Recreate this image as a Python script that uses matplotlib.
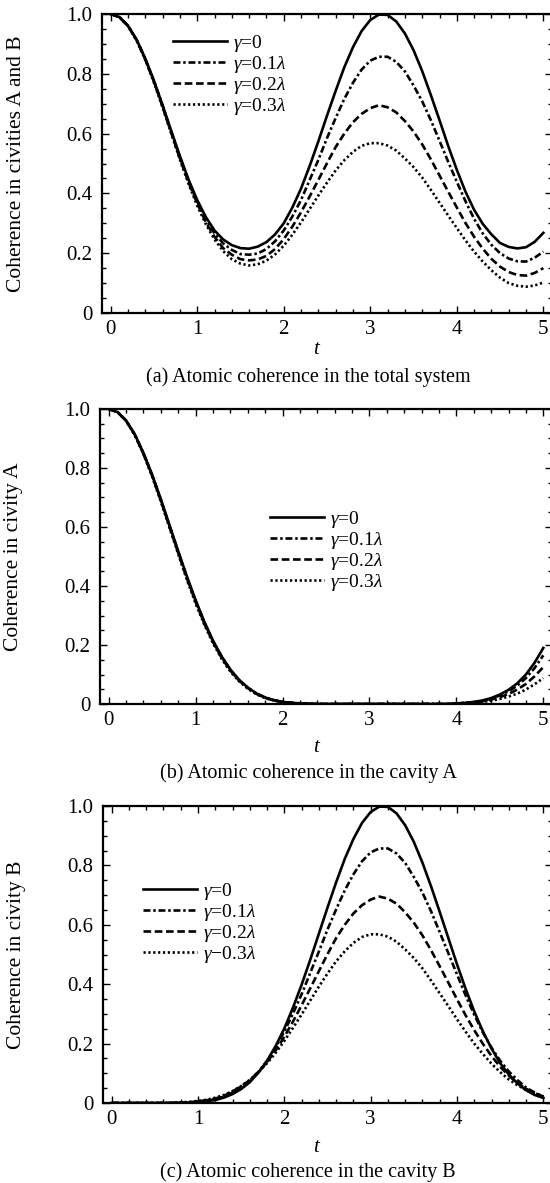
import matplotlib
matplotlib.use("Agg")
import matplotlib.pyplot as plt
import numpy as np
from matplotlib.ticker import MultipleLocator, FuncFormatter

# time axis (0 .. 5, step 0.1)
t = np.linspace(0, 5, 51)

# (a) coherence in cavities A and B
tot_g0 = [1.000, 0.990, 0.961, 0.914, 0.851, 0.777, 0.695, 0.609, 0.525, 0.446,
          0.378, 0.321, 0.276, 0.246, 0.227, 0.217, 0.215, 0.222, 0.237, 0.263,
          0.300, 0.353, 0.416, 0.492, 0.574, 0.660, 0.743, 0.822, 0.889, 0.943,
          0.980, 0.998, 0.997, 0.975, 0.935, 0.879, 0.809, 0.729, 0.645, 0.559,
          0.479, 0.406, 0.345, 0.298, 0.263, 0.234, 0.221, 0.216, 0.220, 0.238,
          0.268]
tot_g1 = [1.000, 0.990, 0.961, 0.914, 0.850, 0.776, 0.694, 0.607, 0.522, 0.442,
          0.373, 0.314, 0.266, 0.233, 0.211, 0.197, 0.195, 0.199, 0.214, 0.240,
          0.276, 0.323, 0.378, 0.445, 0.512, 0.585, 0.652, 0.716, 0.770, 0.814,
          0.844, 0.857, 0.857, 0.840, 0.808, 0.761, 0.708, 0.645, 0.576, 0.506,
          0.439, 0.374, 0.315, 0.266, 0.228, 0.200, 0.182, 0.173, 0.172, 0.185,
          0.205]
tot_g2 = [1.000, 0.990, 0.960, 0.913, 0.848, 0.774, 0.691, 0.603, 0.517, 0.437,
          0.367, 0.304, 0.255, 0.217, 0.195, 0.180, 0.176, 0.179, 0.191, 0.214,
          0.247, 0.289, 0.337, 0.390, 0.445, 0.501, 0.555, 0.600, 0.638, 0.666,
          0.685, 0.695, 0.688, 0.671, 0.642, 0.607, 0.564, 0.514, 0.460, 0.406,
          0.353, 0.301, 0.255, 0.215, 0.181, 0.155, 0.137, 0.127, 0.125, 0.134,
          0.150]
tot_g3 = [1.000, 0.990, 0.960, 0.911, 0.847, 0.771, 0.687, 0.600, 0.513, 0.432,
          0.359, 0.297, 0.246, 0.207, 0.180, 0.165, 0.159, 0.163, 0.175, 0.196,
          0.225, 0.262, 0.303, 0.348, 0.393, 0.436, 0.477, 0.511, 0.539, 0.559,
          0.568, 0.568, 0.560, 0.543, 0.517, 0.488, 0.453, 0.412, 0.369, 0.326,
          0.284, 0.243, 0.205, 0.172, 0.143, 0.118, 0.100, 0.091, 0.088, 0.092,
          0.102]

# (b) coherence in cavity A
cavA_g0 = [1.000, 0.990, 0.961, 0.914, 0.851, 0.777, 0.694, 0.606, 0.518, 0.432,
           0.352, 0.279, 0.215, 0.161, 0.117, 0.082, 0.056, 0.036, 0.022, 0.013,
           0.007, 0.004, 0.002, 0.001, 0.000, 0.000, 0.000, 0.000, 0.000, 0.000,
           0.000, 0.000, 0.000, 0.000, 0.000, 0.000, 0.000, 0.000, 0.000, 0.000,
           0.002, 0.004, 0.007, 0.012, 0.020, 0.032, 0.048, 0.070, 0.100, 0.140,
           0.190]
cavA_g1 = [1.000, 0.990, 0.961, 0.914, 0.850, 0.776, 0.693, 0.604, 0.516, 0.430,
           0.350, 0.277, 0.213, 0.160, 0.116, 0.081, 0.055, 0.035, 0.022, 0.013,
           0.007, 0.004, 0.002, 0.001, 0.000, 0.000, 0.000, 0.000, 0.000, 0.000,
           0.000, 0.000, 0.000, 0.000, 0.000, 0.000, 0.000, 0.000, 0.000, 0.000,
           0.002, 0.004, 0.006, 0.011, 0.018, 0.029, 0.043, 0.062, 0.088, 0.122,
           0.165]
cavA_g2 = [1.000, 0.990, 0.960, 0.913, 0.848, 0.774, 0.690, 0.601, 0.512, 0.426,
           0.346, 0.273, 0.210, 0.156, 0.113, 0.079, 0.054, 0.034, 0.021, 0.012,
           0.007, 0.004, 0.002, 0.001, 0.000, 0.000, 0.000, 0.000, 0.000, 0.000,
           0.000, 0.000, 0.000, 0.000, 0.000, 0.000, 0.000, 0.000, 0.000, 0.000,
           0.002, 0.003, 0.005, 0.009, 0.015, 0.023, 0.034, 0.049, 0.068, 0.094,
           0.125]
cavA_g3 = [1.000, 0.990, 0.960, 0.911, 0.847, 0.771, 0.686, 0.597, 0.508, 0.421,
           0.341, 0.269, 0.206, 0.153, 0.110, 0.077, 0.052, 0.033, 0.020, 0.012,
           0.006, 0.003, 0.002, 0.001, 0.000, 0.000, 0.000, 0.000, 0.000, 0.000,
           0.000, 0.000, 0.000, 0.000, 0.000, 0.000, 0.000, 0.000, 0.000, 0.000,
           0.001, 0.002, 0.004, 0.007, 0.011, 0.017, 0.025, 0.035, 0.049, 0.067,
           0.088]

# (c) coherence in cavity B
cavB_g0 = [0.000, 0.000, 0.000, 0.000, 0.000, 0.000, 0.000, 0.000, 0.001, 0.001,
           0.003, 0.006, 0.010, 0.018, 0.030, 0.047, 0.070, 0.102, 0.142, 0.192,
           0.251, 0.321, 0.398, 0.482, 0.570, 0.658, 0.743, 0.822, 0.889, 0.943,
           0.980, 0.998, 0.997, 0.975, 0.935, 0.879, 0.809, 0.729, 0.643, 0.555,
           0.467, 0.384, 0.308, 0.241, 0.183, 0.134, 0.096, 0.066, 0.043, 0.027,
           0.017]
cavB_g1 = [0.000, 0.000, 0.000, 0.000, 0.000, 0.000, 0.000, 0.000, 0.001, 0.001,
           0.004, 0.008, 0.013, 0.022, 0.035, 0.052, 0.076, 0.105, 0.142, 0.188,
           0.241, 0.301, 0.366, 0.438, 0.510, 0.584, 0.652, 0.716, 0.770, 0.814,
           0.844, 0.857, 0.857, 0.840, 0.808, 0.761, 0.708, 0.645, 0.575, 0.504,
           0.433, 0.362, 0.297, 0.237, 0.186, 0.142, 0.106, 0.077, 0.052, 0.035,
           0.022]
cavB_g2 = [0.000, 0.000, 0.000, 0.000, 0.000, 0.000, 0.000, 0.000, 0.001, 0.002,
           0.006, 0.009, 0.015, 0.024, 0.039, 0.056, 0.077, 0.104, 0.138, 0.177,
           0.223, 0.274, 0.329, 0.386, 0.444, 0.501, 0.555, 0.600, 0.638, 0.666,
           0.685, 0.695, 0.688, 0.671, 0.642, 0.607, 0.564, 0.514, 0.460, 0.405,
           0.349, 0.295, 0.245, 0.199, 0.158, 0.122, 0.092, 0.067, 0.048, 0.033,
           0.022]
cavB_g3 = [0.000, 0.000, 0.000, 0.000, 0.000, 0.000, 0.000, 0.001, 0.002, 0.004,
           0.007, 0.011, 0.018, 0.027, 0.040, 0.057, 0.078, 0.104, 0.134, 0.169,
           0.209, 0.253, 0.298, 0.345, 0.392, 0.436, 0.477, 0.511, 0.539, 0.559,
           0.568, 0.568, 0.560, 0.543, 0.517, 0.488, 0.453, 0.412, 0.369, 0.326,
           0.282, 0.240, 0.200, 0.165, 0.132, 0.104, 0.079, 0.060, 0.044, 0.031,
           0.021]

labels = [r"$\gamma$=0", r"$\gamma$=0.1$\lambda$", r"$\gamma$=0.2$\lambda$", r"$\gamma$=0.3$\lambda$"]
labels_c = [r"$\gamma$=0", r"$\gamma$=0.1$\lambda$", r"$\gamma$=0.2$\lambda$", r"$\gamma$−0.3$\lambda$"]

plt.rcParams["font.family"] = ["Liberation Serif", "DejaVu Serif"]
plt.rcParams["mathtext.fontset"] = "custom"
plt.rcParams["mathtext.rm"] = "Liberation Serif"
plt.rcParams["mathtext.it"] = "Liberation Serif:italic"
plt.rcParams["lines.scale_dashes"] = False

W, H = 550, 1183
RIGHT = 552  # right spine sits just outside the picture, only its ticks show
fig = plt.figure(figsize=(W / 100, H / 100), dpi=100)

# line styles: solid, dash-dot, dashed, dotted
styles = [dict(linestyle="-"),
          dict(dashes=(5, 2.0, 1.8, 2.0)),
          dict(dashes=(5.5, 2.6)),
          dict(dashes=(1.6, 1.9))]


def add_panel(left, top, bottom, series, labs, ylabel, ylab_x, leg_xy, t_y, cap_y, caption):
    ax = fig.add_axes([left / W, 1 - bottom / H, (RIGHT - left) / W, (bottom - top) / H])
    for ys, st, lab in zip(series, styles, labs):
        ax.plot(t, ys, color="black", lw=1.9, label=lab, **st)
    ax.set_xlim(-0.1, 5.1)
    ax.set_ylim(0, 1.0)
    ax.xaxis.set_major_locator(MultipleLocator(1))
    ax.xaxis.set_minor_locator(MultipleLocator(0.2))
    ax.yaxis.set_major_locator(MultipleLocator(0.2))
    ax.yaxis.set_minor_locator(MultipleLocator(0.05))
    ax.yaxis.set_major_formatter(FuncFormatter(lambda v, _: "0" if abs(v) < 1e-9 else f"{v:.1f}"))
    ax.tick_params(which="both", direction="in", top=True, right=True, width=1)
    ax.tick_params(which="major", length=5, labelsize=15)
    ax.tick_params(which="minor", length=3)
    ax.tick_params(axis="y", pad=7)
    ax.tick_params(axis="x", pad=5)
    for sp in ax.spines.values():
        sp.set_linewidth(1.6)
    # legend anchored by its upper-left corner
    lx = (leg_xy[0] - left) / (RIGHT - left)
    ly = (bottom - leg_xy[1]) / (bottom - top)
    ax.legend(loc="upper left", bbox_to_anchor=(lx, ly), frameon=False, fontsize=14,
              handlelength=2.8, handletextpad=0.3, labelspacing=0.0,
              borderpad=0, borderaxespad=0)
    fig.text(ylab_x / W, 1 - (top + bottom) / 2 / H, ylabel, rotation=90,
             ha="center", va="center", fontsize=15.5)
    fig.text(316 / W, 1 - t_y / H, "t", style="italic", ha="center", va="center", fontsize=15)
    fig.text(308 / W, 1 - cap_y / H, caption, ha="center", va="center", fontsize=14.5)
    return ax


add_panel(102, 14, 313, [tot_g0, tot_g1, tot_g2, tot_g3], labels,
          "Coherence in civities A and B", 17, (173, 33), 350, 377,
          "(a) Atomic coherence in the total system")
add_panel(100, 409, 704, [cavA_g0, cavA_g1, cavA_g2, cavA_g3], labels,
          "Coherence in civity A", 14, (270, 509), 748, 773,
          "(b) Atomic coherence in the cavity A")
add_panel(103, 806, 1103, [cavB_g0, cavB_g1, cavB_g2, cavB_g3], labels_c,
          "Coherence in civity B", 17, (143, 881), 1147, 1172,
          "(c) Atomic coherence in the cavity B")

fig.savefig("out.png", dpi=100)
